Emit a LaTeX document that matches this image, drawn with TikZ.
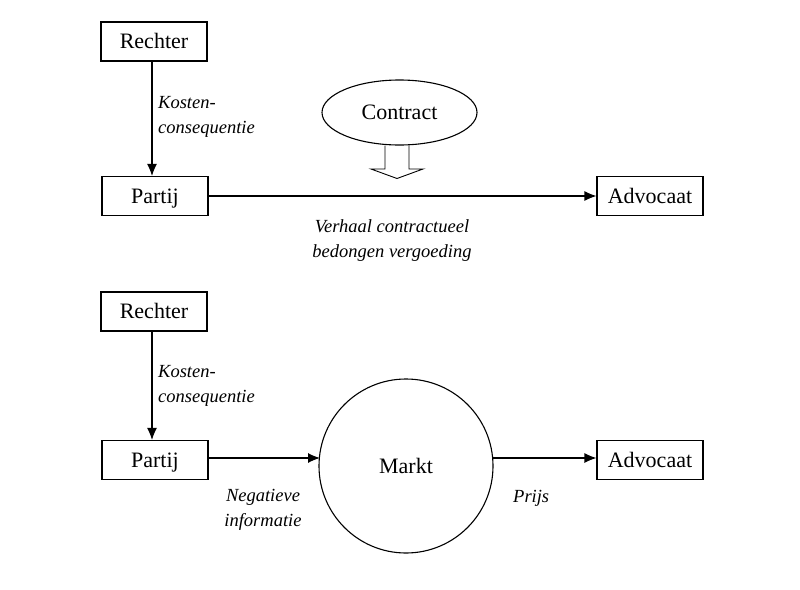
\documentclass[tikz,border=0pt]{standalone}
\usepackage{fontspec}
\setmainfont{Liberation Serif}
\usetikzlibrary{arrows.meta,shapes.geometric}
\begin{document}
\begin{tikzpicture}[x=1pt,y=-1pt,
  box/.style={draw,line width=1.1pt,minimum width=106pt,minimum height=39pt,inner sep=0pt,text height=17pt,text depth=2.5pt,font=\fontsize{22}{24}\selectfont},
  lbl/.style={font=\fontsize{18.5}{25}\selectfont\itshape,align=left,inner sep=0pt},
  conn/.style={line width=1.1pt,-{Latex[length=12pt,width=10pt]}}]
\useasboundingbox (0,0) rectangle (800,589);
% top diagram
\node[box] (r1) at (154,41.5) {Rechter};
\node[box] (p1) at (155,196) {Partij};
\node[box] (a1) at (650,196) {Advocaat};
\node[draw,line width=1.1pt,ellipse,minimum width=155pt,minimum height=65pt,inner sep=0pt,font=\fontsize{22}{24}\selectfont] (c) at (399.5,112.5) {Contract};
\draw[conn] (r1.south -| 152,0) -- (p1.north -| 152,0);
\draw[conn] (p1.east) -- (a1.west);
\node[lbl,anchor=north west] (k1) at (158,96) {Kosten-\\consequentie};
\node[lbl,align=center,anchor=north] (v1) at (392,219) {Verhaal contractueel\\bedongen vergoeding};
\draw[line width=0.9pt,line join=miter] (c.south -| 385,0) -- (385,169) -- (371,169) -- (397,178.5) -- (423,169) -- (409,169) -- (c.south -| 409,0);
% bottom diagram
\node[box] (r2) at (154,311.5) {Rechter};
\node[box] (p2) at (155,460) {Partij};
\node[box] (a2) at (650,460) {Advocaat};
\node[draw,line width=1.1pt,circle,minimum size=174pt,inner sep=0pt,font=\fontsize{22}{24}\selectfont] (m) at (406,466) {Markt};
\draw[conn] (r2.south -| 152,0) -- (p2.north -| 152,0);
\coordinate (mw) at (320,458);
\coordinate (me) at (492,458);
\draw[conn] (p2.east |- mw) -- (mw);
\draw[conn] (me) -- (a2.west |- me);
\node[lbl,anchor=north west] (k2) at (158,365) {Kosten-\\consequentie};
\node[lbl,align=center,anchor=north] (n2) at (263,489) {Negatieve\\informatie};
\node[lbl,anchor=north west] (pr) at (513,490) {Prijs};
\end{tikzpicture}
\end{document}
